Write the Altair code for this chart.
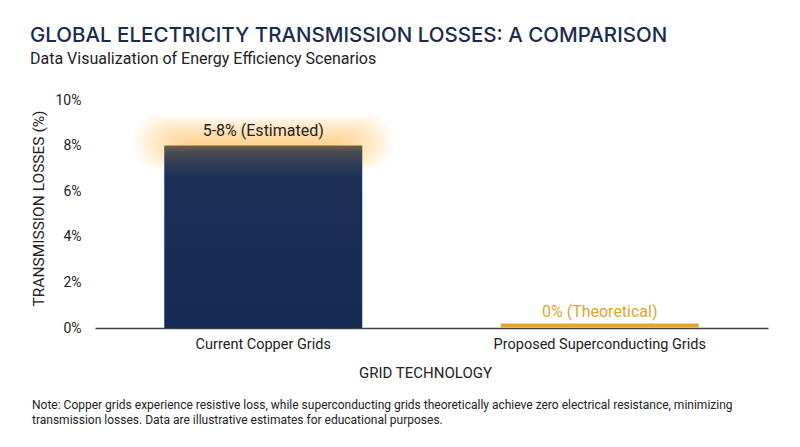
import altair as alt
import pandas as pd

categories = ["Current Copper Grids", "Proposed Superconducting Grids"]
losses = [8, 0]
value_labels = ["5-8% (Estimated)", "0% (Theoretical)"]

note_lines = [
    "Note: Copper grids experience resistive loss, while superconducting grids theoretically achieve zero electrical resistance, minimizing",
    "transmission losses. Data are illustrative estimates for educational purposes.",
]

df = pd.DataFrame({"grid": categories, "loss": losses, "label": value_labels})
note_df = pd.DataFrame({"note": ["\n".join(note_lines)]})

NAVY = "#162b54"
GOLD = "#e3a42c"
TEXT = "#222222"
PX_PER_UNIT = 22.8  # plot height 228px over a 0-10 domain

x_enc = alt.X(
    "grid:N",
    sort=categories,
    scale=alt.Scale(paddingInner=0.1),
    axis=alt.Axis(
        title="GRID TECHNOLOGY",
        labelAngle=0,
        labelFont="Roboto",
        labelFontSize=14.5,
        labelColor=TEXT,
        labelPadding=9,
        labelLimit=0,
        ticks=False,
        domainColor="#3a3f4a",
        domainWidth=1.5,
        titleFont="Roboto",
        titleFontSize=15,
        titleFontWeight="normal",
        titleColor=TEXT,
        titleX=330,
        titleY=44,
        titleBaseline="middle",
        titleAlign="center",
    ),
)

y_scale = alt.Scale(domain=[0, 10])
y_axis = alt.Axis(
    title="TRANSMISSION LOSSES (%)",
    values=[0, 2, 4, 6, 8, 10],
    labelExpr="datum.value + '%'",
    labelFont="Roboto",
    labelFontSize=14,
    labelColor=TEXT,
    labelPadding=14,
    labelBaseline="middle",
    ticks=False,
    domain=False,
    grid=False,
    titleFont="Roboto",
    titleFontSize=15.5,
    titleFontWeight="normal",
    titleColor=TEXT,
    titleX=-57,
    titleY=108,
    titleAlign="center",
    titleBaseline="middle",
    titleAngle=270,
)

base = alt.Chart(df)

# soft glow around the top edge of the copper bar: stacked translucent rounded rects
glow_layers = []
for k in range(18):
    size = 150 + 6.5 * k
    ext_up = 3 + 1.6 * k
    ext_dn = 2 + 1.25 * k
    glow_layers.append(
        base.transform_filter("datum.loss > 0")
        .transform_calculate(
            g0=f"datum.loss - {ext_dn / PX_PER_UNIT:.4f}",
            g1=f"datum.loss + {ext_up / PX_PER_UNIT:.4f}",
        )
        .mark_bar(
            size=size,
            color="#ffb849",
            opacity=0.042,
            cornerRadius=min(ext_up + 4, 24),
        )
        .encode(x=x_enc, y=alt.Y("g0:Q", scale=y_scale, axis=y_axis), y2="g1:Q")
    )

bars = (
    base.transform_filter("datum.loss > 0")
    .mark_bar(
        size=198,
        color=alt.LinearGradient(
            gradient="linear",
            x1=0, x2=0, y1=0, y2=1,
            stops=[
                alt.GradientStop(color="#6e6248", offset=0),
                alt.GradientStop(color="#4b4c50", offset=0.035),
                alt.GradientStop(color="#2f3c58", offset=0.1),
                alt.GradientStop(color="#1b2f57", offset=0.18),
                alt.GradientStop(color=NAVY, offset=1),
            ],
        ),
    )
    .encode(x=x_enc, y=alt.Y("loss:Q", scale=y_scale, axis=y_axis))
)

zero_line = (
    base.transform_filter("datum.loss == 0")
    .mark_tick(orient="horizontal", size=198, thickness=4, color=GOLD, yOffset=-2.5, opacity=1)
    .encode(x=x_enc, y=alt.Y("loss:Q", scale=y_scale, axis=y_axis))
)

label_main = (
    base.transform_filter("datum.loss > 0")
    .mark_text(font="Roboto", fontSize=16, color=TEXT, baseline="bottom", dy=-7)
    .encode(x=x_enc, y=alt.Y("loss:Q", scale=y_scale, axis=y_axis), text="label:N")
)

label_zero = (
    base.transform_filter("datum.loss == 0")
    .mark_text(font="Roboto", fontSize=16, color=GOLD, baseline="bottom", dy=-8)
    .encode(x=x_enc, y=alt.Y("loss:Q", scale=y_scale, axis=y_axis), text="label:N")
)

note = (
    alt.Chart(note_df)
    .mark_text(
        font="Roboto", fontSize=12, color=TEXT, align="left", baseline="middle",
        lineBreak="\n", lineHeight=15,
    )
    .encode(x=alt.value(-63), y=alt.value(305), text="note:N")
)

chart = (
    alt.layer(*glow_layers, bars, zero_line, label_main, label_zero, note)
    .properties(
        width=673,
        height=228,
        padding={"left": 87, "top": 92, "right": 24, "bottom": 111},
        autosize=alt.AutoSizeParams(type="none"),
        background="white",
        title=alt.TitleParams(
            text="GLOBAL ELECTRICITY TRANSMISSION LOSSES: A COMPARISON",
            subtitle="Data Visualization of Energy Efficiency Scenarios",
            anchor="start",
            frame="group",
            dx=-65,
            offset=26,
            font="Inter",
            fontSize=20.5,
            fontWeight=500,
            color="#1b2b4b",
            subtitleFont="Roboto",
            subtitleFontSize=16,
            subtitleColor=TEXT,
            subtitlePadding=5,
        ),
    )
    .configure_view(stroke=None)
)

chart.save("out.html", embed_options={"renderer": "svg", "actions": False})
